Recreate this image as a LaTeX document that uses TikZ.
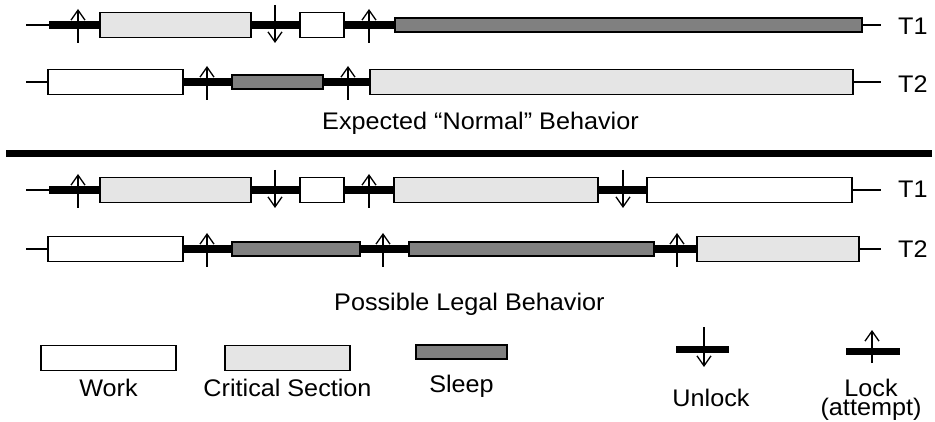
\documentclass[tikz,border=0pt]{standalone}
\usepackage{fontspec}
\setmainfont{Liberation Sans}[FakeStretch=1.05]
\usepackage{tikz}
\usetikzlibrary{positioning, arrows.meta}

\definecolor{critgray}{gray}{0.9}
\definecolor{sleepgray}{gray}{0.5}

\begin{document}
\begin{tikzpicture}[
        x=1pt,
        y=-1pt,
        font=\fontsize{24}{24}\selectfont,
        work/.style={
            rectangle,
            draw,
            fill=white,
            line width=1.2pt,
            minimum height=25pt,
            inner sep=0pt
        },
        crit/.style={
            work,
            fill=critgray
        },
        sleep/.style={
            work,
            fill=sleepgray,
            minimum height=14pt
        },
        idle/.style={
            line width=2pt
        },
        hold/.style={
            line width=8pt
        },
        lockarrow/.style={
            line width=1.3pt,
            -{Straight Barb[length=10pt,width=14pt]}
        },
        label/.style={
            inner sep=0pt,
            anchor=base west
        }
    ]

    \useasboundingbox (0,0) rectangle (935,422);

    % --------------------------------------------------------
    % Boxes: name/style/left/right/row
    % --------------------------------------------------------

    \foreach \name/\kind/\xa/\xb/\y in {
        ta1-c1/crit/100/251/25,
        ta1-w1/work/300/344/25,
        ta1-s1/sleep/395/862/25,
        ta2-w1/work/48/183/82,
        ta2-s1/sleep/232/323/82,
        ta2-c1/crit/370/853/82,
        tb1-c1/crit/100/251/190,
        tb1-w1/work/300/344/190,
        tb1-c2/crit/394/598/190,
        tb1-w2/work/647/852/190,
        tb2-w1/work/48/183/249,
        tb2-s1/sleep/232/360/249,
        tb2-s2/sleep/409/654/249,
        tb2-c1/crit/697/859/249%
    } {
        \node[
            \kind,
            minimum width={(\xb-\xa)*1pt}
        ]
        (\name)
        at ({(\xa+\xb)/2},\y) {};
    }

    % --------------------------------------------------------
    % Line ends
    % --------------------------------------------------------

    \coordinate (ta1-start) at (26,25);
    \coordinate (ta1-hold) at (49,25);
    \coordinate (ta1-end) at (881,25);
    \coordinate (ta2-start) at (26,82);
    \coordinate (ta2-end) at (881,82);
    \coordinate (tb1-start) at (26,190);
    \coordinate (tb1-hold) at (49,190);
    \coordinate (tb1-end) at (881,190);
    \coordinate (tb2-start) at (26,249);
    \coordinate (tb2-end) at (881,249);

    % --------------------------------------------------------
    % Thin (no lock) and thick (lock held) stretches
    % --------------------------------------------------------

    \foreach \from/\to in {
        ta1-start/ta1-hold,
        ta1-s1.east/ta1-end,
        ta2-start/ta2-w1.west,
        ta2-c1.east/ta2-end,
        tb1-start/tb1-hold,
        tb1-w2.east/tb1-end,
        tb2-start/tb2-w1.west,
        tb2-c1.east/tb2-end%
    } {
        \draw[idle] (\from) -- (\to);
    }

    \foreach \from/\to in {
        ta1-hold/ta1-c1.west,
        ta1-c1.east/ta1-w1.west,
        ta1-w1.east/ta1-s1.west,
        ta2-w1.east/ta2-s1.west,
        ta2-s1.east/ta2-c1.west,
        tb1-hold/tb1-c1.west,
        tb1-c1.east/tb1-w1.west,
        tb1-w1.east/tb1-c2.west,
        tb1-c2.east/tb1-w2.west,
        tb2-w1.east/tb2-s1.west,
        tb2-s1.east/tb2-s2.west,
        tb2-s2.east/tb2-c1.west%
    } {
        \draw[hold] (\from) -- (\to);
    }

    % --------------------------------------------------------
    % Lock attempts and unlocks
    % --------------------------------------------------------

    \foreach \x/\y in {78/25, 369/25, 207/82, 348/82,
                       78/190, 369/190, 207/249, 383/249, 677/249} {
        \draw[lockarrow] (\x,\y+18) -- (\x,\y-16);
    }

    \foreach \x/\y in {275/25, 275/190, 623/190} {
        \draw[lockarrow] (\x,\y-20) -- (\x,\y+18);
    }

    % --------------------------------------------------------
    % Thread names and captions
    % --------------------------------------------------------

    \node[label] (name-ta1) at (898,35) {T1};
    \node[label] (name-ta2) at (898,93) {T2};
    \node[label] (name-tb1) at (898,198) {T1};
    \node[label] (name-tb2) at (898,258) {T2};

    \node[label] (cap-normal) at (322,130) {Expected “Normal” Behavior};

    \draw[
        line width=7pt
    ]
    (6,154) -- (932,154);

    \node[label] (cap-legal) at (334,310) {Possible Legal Behavior};

    % --------------------------------------------------------
    % Legend
    % --------------------------------------------------------

    \node[work, minimum width=135pt] (key-work) at (108.5,358) {};
    \node[crit, minimum width=125pt] (key-crit) at (287.5,358) {};
    \node[sleep, minimum width=91pt] (key-sleep) at (461.5,352) {};

    \node[
        anchor=base,
        inner sep=0pt
    ]
    (key-work-text)
    at ([yshift=-38pt]key-work.center) {Work};

    \node[
        anchor=base,
        inner sep=0pt
    ]
    (key-crit-text)
    at ([yshift=-38pt]key-crit.center) {Critical Section};

    \node[
        anchor=base,
        inner sep=0pt
    ]
    (key-sleep-text)
    at ([yshift=-40pt]key-sleep.center) {Sleep};

    \coordinate (key-unlock) at (702.5,349);
    \draw[hold, line width=7pt] ([xshift=-26.5pt]key-unlock) -- ([xshift=26.5pt]key-unlock);
    \draw[lockarrow] (704,327) -- (704,367);

    \coordinate (key-lock) at (873,351);
    \draw[hold, line width=7pt] ([xshift=-27pt]key-lock) -- ([xshift=27pt]key-lock);
    \draw[lockarrow] (872,363) -- (872,330);

    \node[
        anchor=base,
        inner sep=0pt
    ]
    (key-unlock-text)
    at (711,406) {Unlock};

    \node[
        anchor=base,
        inner sep=0pt,
        align=center,
        font=\fontsize{24}{19}\selectfont
    ]
    (key-lock-text)
    at (871,415) {Lock\\(attempt)};

\end{tikzpicture}
\end{document}
